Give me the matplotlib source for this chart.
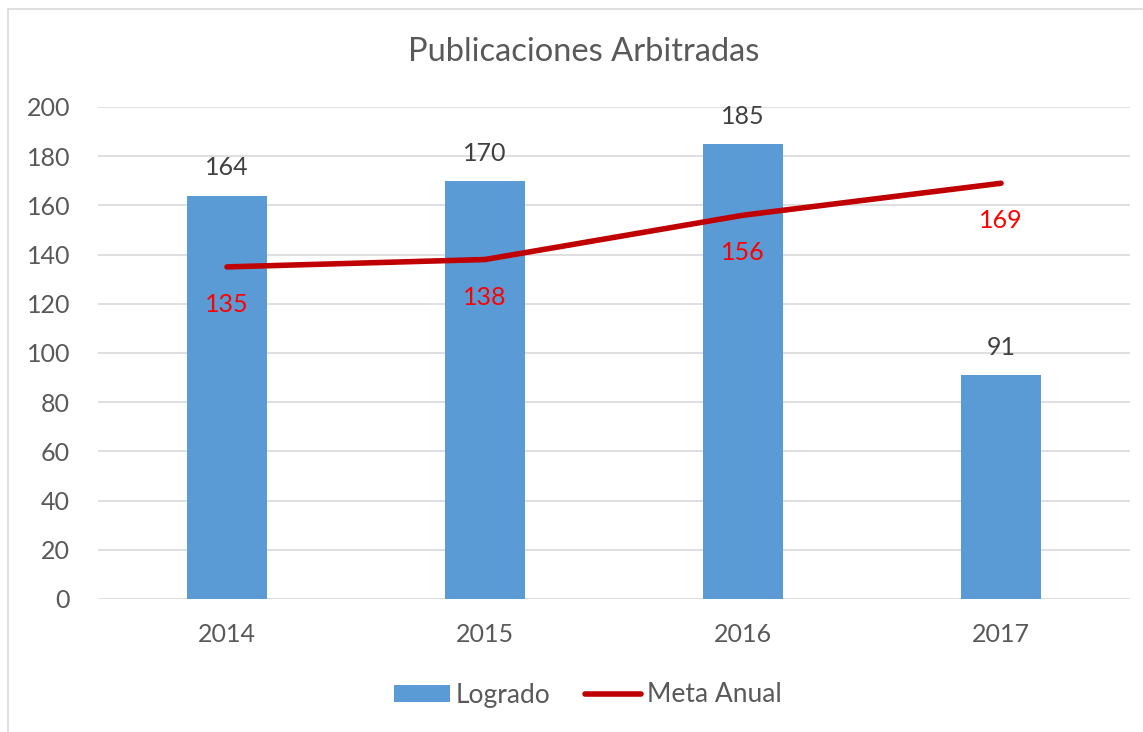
import matplotlib.pyplot as plt
import numpy as np
from matplotlib.patches import Rectangle

years = ['2014', '2015', '2016', '2017']
logrado = [164, 170, 185, 91]
meta = [135, 138, 156, 169]

plt.rcParams['font.family'] = ['Lato', 'DejaVu Sans']
gris = '#595959'

fig = plt.figure(figsize=(11.43, 7.32), dpi=100)
fig.patches.append(Rectangle((8/1143, -0.05), 1.1, 1 - 9/732 + 0.05, transform=fig.transFigure,
                             fill=False, edgecolor='#D9D9D9', linewidth=1.2, zorder=0))
ax = fig.add_axes([98/1143, 1 - 599/732, (1130 - 98)/1143, (599 - 107)/732])

x = np.arange(len(years))
bars = ax.bar(x, logrado, width=0.31, color='#5B9BD5', label='Logrado', zorder=2)
line, = ax.plot(x, meta, color='#C00000', linewidth=4, solid_capstyle='round',
                label='Meta Anual', zorder=3)

for xi, v in zip(x, logrado):
    ax.annotate(str(v), (xi, v), xytext=(0, 20), textcoords='offset points',
                ha='center', va='center', fontsize=18, color='#404040')
for xi, v in zip(x, meta):
    ax.annotate(str(v), (xi, v), xytext=(0, -27), textcoords='offset points',
                ha='center', va='center', fontsize=18, color='#FF0000')

ax.set_xlim(-0.5, 3.5)
ax.set_ylim(0, 200)
ax.set_yticks(range(0, 201, 20))
ax.set_xticks(x)
ax.set_xticklabels(years)
ax.grid(axis='y', color='#D9D9D9', linewidth=1.2, zorder=0)
ax.set_axisbelow(True)
for s in ax.spines.values():
    s.set_visible(False)
ax.tick_params(length=0, labelsize=18, labelcolor=gris)
ax.tick_params(axis='y', pad=20)
ax.tick_params(axis='x', pad=17)

fig.text(584/1143, 1 - 52/732, 'Publicaciones Arbitradas', ha='center', va='center',
         fontsize=23.5, color=gris)

leg = fig.legend([bars, line], ['Logrado', 'Meta Anual'], loc='center',
                 bbox_to_anchor=(588/1143, 1 - 695/732), ncol=2, frameon=False,
                 fontsize=19, handlelength=2.1, handleheight=0.6, columnspacing=1.3,
                 handletextpad=0.25, labelcolor=gris)

fig.savefig('out.png', dpi=100)
